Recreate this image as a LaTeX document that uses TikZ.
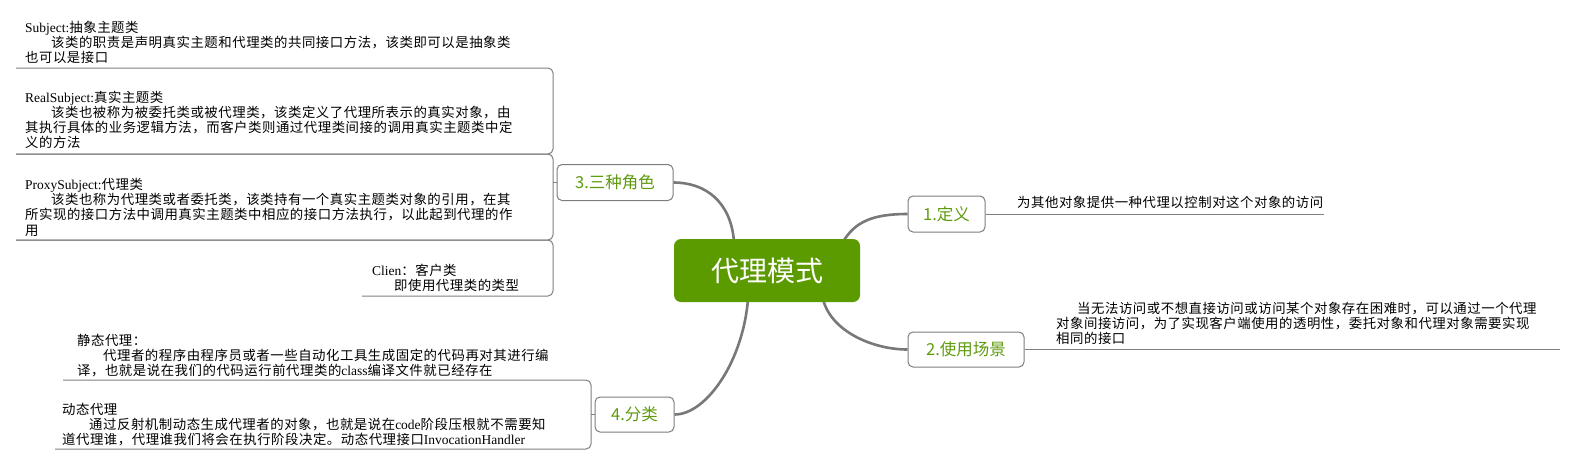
\documentclass[tikz,border=0pt]{standalone}
\usepackage{fontspec}
\usetikzlibrary{backgrounds}
\setmainfont{Noto Sans CJK SC}
\newfontfamily\bodyfont[LetterSpace=4]{Noto Sans CJK SC}
\newfontfamily\lat{Liberation Serif}
\definecolor{rootgreen}{RGB}{92,155,0}
\definecolor{labgreen}{RGB}{95,155,15}
\definecolor{boxgray}{RGB}{125,125,125}
\definecolor{curvegray}{RGB}{120,120,120}
\definecolor{linegray}{RGB}{128,128,128}
\tikzset{
  txt/.style={anchor=north west, align=left, inner sep=0pt, text=black,
    font=\bodyfont\fontsize{13.4}{15.2}\selectfont},
  branchbox/.style={draw=boxgray, line width=1pt, rounded corners=5pt, fill=white,
    text=labgreen, font=\fontsize{16.5}{20}\selectfont, inner sep=0pt},
  rootbox/.style={fill=rootgreen, rounded corners=7pt, text=white,
    font=\fontsize{28}{32}\selectfont, inner sep=0pt,
    minimum width=186pt, minimum height=63pt},
  conn/.style={draw=curvegray, line width=2.6pt},
  rule/.style={draw=linegray, line width=1pt},
  bracket/.style={draw=linegray, line width=1pt, rounded corners=5pt},
}
\newcommand{\lt}[1]{{\lat\fontsize{13.5}{15.2}\selectfont #1}}
\begin{document}
\begin{tikzpicture}[x=1pt,y=-1pt]
\path[use as bounding box] (0,0) rectangle (1577,467);

% junction coordinates
\coordinate (j3) at (553,182.5);
\coordinate (j4) at (591,414.5);
\coordinate (e1) at (1324,214);
\coordinate (e2) at (1560,349.5);

% branch nodes
\node[rootbox] (root) at (767,270.5) {代理模式};
\node[branchbox, minimum width=77pt, minimum height=36pt] (b1) at (946.5,214) {1.定义};
\node[branchbox, minimum width=116pt, minimum height=35pt] (b2) at (966,349.5) {2.使用场景};
\node[branchbox, minimum width=116pt, minimum height=36pt] (b3) at (615,182.5) {3.三种角色};
\node[branchbox, minimum width=79pt, minimum height=35pt] (b4) at (634.5,414.5) {4.分类};

% curved connectors (behind the nodes)
\begin{scope}[on background layer]
\fill[white] (0,0) rectangle (1577,467);
\draw[conn] ([xshift=-33pt,yshift=-3pt]root.north) .. controls +(-3,-40) and +(32,0) .. (b3.east);
\draw[conn] ([xshift=76pt,yshift=-3pt]root.north) .. controls +(12,-20) and +(-35,0) .. (b1.west);
\draw[conn] ([xshift=56pt,yshift=3pt]root.south) .. controls +(8,32) and +(-35,0) .. (b2.west);
\draw[conn] ([xshift=-19pt,yshift=3pt]root.south) .. controls +(-5,62) and +(32,0) .. (b4.east);
\end{scope}

% right side
\draw[rule] (b1.east) -- (e1);
\draw[rule] (b2.east) -- (e2);
\node[txt] (def) at (1017,196) {为其他对象提供一种代理以控制对这个对象的访问};
\node[txt] (use) at (1056,302) {\hspace*{21pt}当无法访问或不想直接访问或访问某个对象存在困难时，可以通过一个代理\\
对象间接访问，为了实现客户端使用的透明性，委托对象和代理对象需要实现\\
相同的接口};

% left side: three roles
\draw[rule] (b3.west) -- (j3);
\draw[bracket] (16,68) -- (553,68) -- (553,154) -- (16,154);
\draw[bracket] (16,154) -- (553,154) -- (553,240) -- (16,240);
\draw[bracket] (16,240) -- (553,240) -- (553,296) -- (362,296);

\node[txt] (subj) at (25,21) {\lt{Subject:}抽象主题类\\
\hspace*{26pt}该类的职责是声明真实主题和代理类的共同接口方法，该类即可以是抽象类\\
也可以是接口};
\node[txt] (real) at (25,90.5) {\lt{RealSubject:}真实主题类\\
\hspace*{26pt}该类也被称为被委托类或被代理类，该类定义了代理所表示的真实对象，由\\
其执行具体的业务逻辑方法，而客户类则通过代理类间接的调用真实主题类中定\\
义的方法};
\node[txt] (proxy) at (25,178) {\lt{ProxySubject:}代理类\\
\hspace*{26pt}该类也称为代理类或者委托类，该类持有一个真实主题类对象的引用，在其\\
所实现的接口方法中调用真实主题类中相应的接口方法执行，以此起到代理的作\\
用};
\node[txt] (client) at (372,263.5) {\lt{Clien}：客户类\\
\hspace*{22pt}即使用代理类的类型};

% left side: classification
\draw[rule] (b4.west) -- (j4);
\draw[bracket] (63,380) -- (591,380) -- (591,449) -- (55,449);
\node[txt] (static) at (77,334) {静态代理：\\
\hspace*{26pt}代理者的程序由程序员或者一些自动化工具生成固定的代码再对其进行编\\
译，也就是说在我们的代码运行前代理类的\lt{class}编译文件就已经存在};
\node[txt] (dynamic) at (62,403) {动态代理\\
\hspace*{27pt}通过反射机制动态生成代理者的对象，也就是说在\lt{code}阶段压根就不需要知\\
道代理谁，代理谁我们将会在执行阶段决定。动态代理接口\lt{InvocationHandler}};
\end{tikzpicture}
\end{document}
